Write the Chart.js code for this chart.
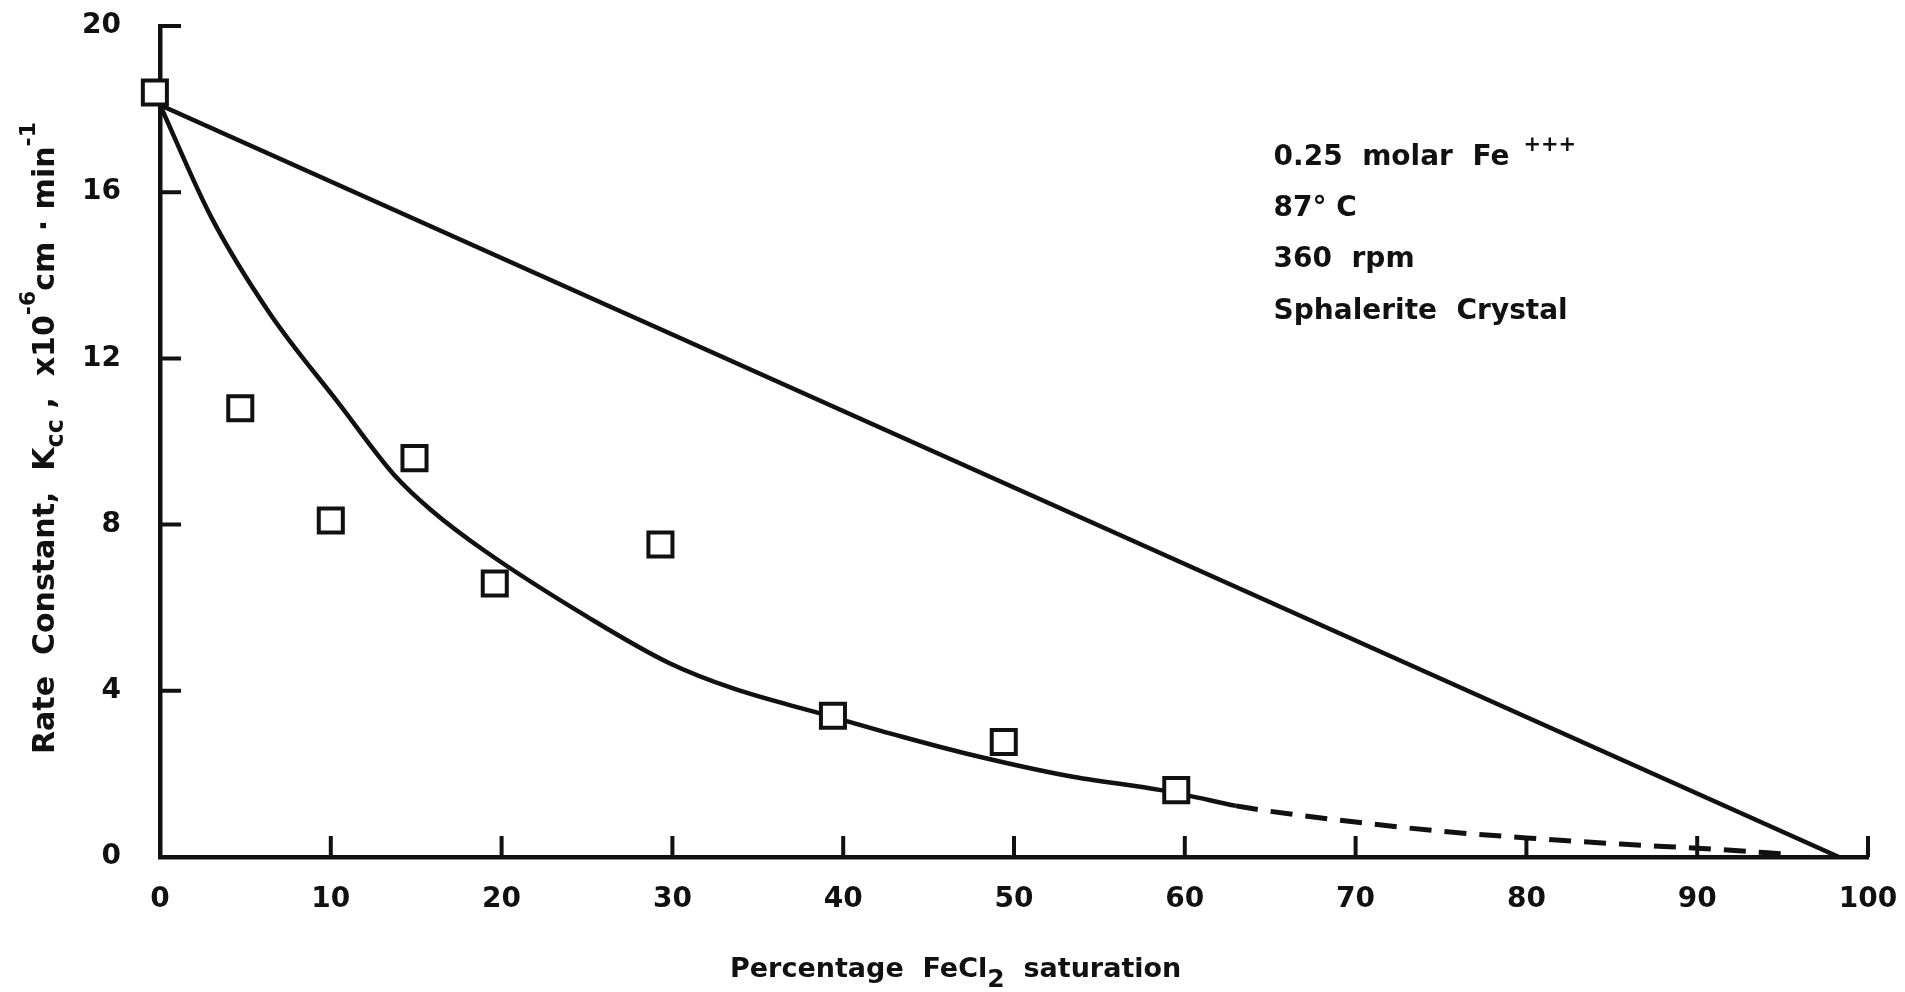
<!DOCTYPE html>
<html>
<head>
<meta charset="utf-8">
<script src="https://cdn.jsdelivr.net/npm/chart.js@4.4.1/dist/chart.umd.min.js"></script>
<style>
  html, body { margin: 0; padding: 0; background: #fff; }
</style>
</head>
<body>
<canvas id="rateChart" width="1905" height="992"></canvas>
<script>
// measured rate constants (x10^-6 cm/min) against % FeCl2 saturation
const satMeasured = [-0.3, 4.7, 10.0, 14.9, 19.6, 29.3, 39.4, 49.4, 59.5]
const rateMeasured = [18.4, 10.8, 8.1, 9.6, 6.58, 7.52, 3.4, 2.77, 1.61]

// fitted curve (solid part)
const satFit = [0, 3, 6.4, 10.5, 13.7, 15.9, 19, 25.1, 29.8, 33.6, 38.7, 43.4, 47.3, 53.2, 58.6, 63]
const rateFit = [18.1, 15.4, 13.1, 10.9, 9.2, 8.34, 7.37, 5.76, 4.67, 4.05, 3.45, 2.9, 2.48, 1.95, 1.61, 1.23]

// extrapolated tail of the fitted curve (dashed)
const satTail = [63, 65, 70, 75, 80, 86, 91, 95.5]
const rateTail = [1.23, 1.1, 0.84, 0.62, 0.46, 0.3, 0.19, 0.06]

// straight line from pure ferric solution to saturation
const satLine = [0, 98.3]
const rateLine = [18.1, 0]

const xTicks = [0, 10, 20, 30, 40, 50, 60, 70, 80, 90, 100]
const yTicks = [0, 4, 8, 12, 16, 20]

const notes = ['0.25  molar  Fe', '87° C', '360  rpm', 'Sphalerite  Crystal']

const pts = (xs, ys) => xs.map((x, i) => ({ x: x, y: ys[i] }))

const FONT = 'DejaVu Sans'
const INK = '#111'

// inward tick marks, axis titles and the conditions note
const decorations = {
  id: 'decorations',
  afterDraw (chart) {
    const { ctx, chartArea } = chart
    const xs = chart.scales.x
    const ys = chart.scales.y
    ctx.save()
    ctx.strokeStyle = INK
    ctx.lineWidth = 4
    ctx.beginPath()
    xTicks.slice(1).forEach(v => {
      const px = xs.getPixelForValue(v)
      ctx.moveTo(px, chartArea.bottom)
      ctx.lineTo(px, chartArea.bottom - 21)
    })
    yTicks.slice(1).forEach(v => {
      const py = ys.getPixelForValue(v)
      ctx.moveTo(chartArea.left, py)
      ctx.lineTo(chartArea.left + 21, py)
    })
    ctx.stroke()

    ctx.fillStyle = INK
    ctx.textBaseline = 'alphabetic'
    ctx.textAlign = 'left'

    // y title, rotated, with subscript and superscripts
    ctx.save()
    ctx.translate(54, 754)
    ctx.rotate(-Math.PI / 2)
    let cx = 0
    const part = (txt, size, dy) => {
      ctx.font = 'bold ' + size + 'px "' + FONT + '"'
      ctx.fillText(txt, cx, dy)
      cx += ctx.measureText(txt).width
    }
    part('Rate  Constant,  K', 30, 0)
    part('cc', 24, 9)
    part(' ,  x10', 30, 0)
    part('-6', 22, -19)
    part('cm · min', 30, 0)
    part('-1', 22, -19)
    ctx.restore()

    // x title
    cx = 730
    const xpart = (txt, size, dy) => {
      ctx.font = 'bold ' + size + 'px "' + FONT + '"'
      ctx.fillText(txt, cx, 977 + dy)
      cx += ctx.measureText(txt).width
    }
    xpart('Percentage  FeCl', 27, 0)
    xpart('2', 25, 10)
    xpart('  saturation', 27, 0)

    // experimental conditions
    const nx = xs.getPixelForValue(65.2)
    notes.forEach((t, i) => {
      const py = ys.getPixelForValue(16.65 - i * 1.23)
      ctx.font = 'bold 28px "' + FONT + '"'
      ctx.fillText(t, nx, py)
      if (i === 0) {
        const w = ctx.measureText(t).width
        ctx.font = 'bold 21px "' + FONT + '"'
        ctx.fillText('+++', nx + w + 14, py - 14)
      }
    })
    ctx.restore()
  }
}

new Chart(document.getElementById('rateChart').getContext('2d'), {
  type: 'scatter',
  data: {
    datasets: [
      {
        label: 'measured',
        data: pts(satMeasured, rateMeasured),
        pointStyle: 'rect',
        pointRadius: 17,
        pointBorderWidth: 4,
        pointBorderColor: INK,
        pointBackgroundColor: '#fff',
        showLine: false,
        clip: false,
        order: 0
      },
      {
        label: 'fit',
        data: pts(satFit, rateFit),
        showLine: true,
        borderColor: INK,
        borderWidth: 4.5,
        pointRadius: 0,
        cubicInterpolationMode: 'monotone',
        order: 1
      },
      {
        label: 'tail',
        data: pts(satTail, rateTail),
        showLine: true,
        borderColor: INK,
        borderWidth: 5,
        borderDash: [22, 13],
        pointRadius: 0,
        cubicInterpolationMode: 'monotone',
        order: 1
      },
      {
        label: 'linear',
        data: pts(satLine, rateLine),
        showLine: true,
        borderColor: INK,
        borderWidth: 4.5,
        pointRadius: 0,
        order: 1
      }
    ]
  },
  options: {
    responsive: false,
    animation: false,
    events: [],
    layout: { padding: { left: 0, top: 26, right: 37, bottom: 0 } },
    plugins: {
      legend: { display: false },
      tooltip: { enabled: false }
    },
    scales: {
      x: {
        type: 'linear',
        min: 0,
        max: 100,
        afterFit (scale) {
          scale.height = 135
          scale.paddingLeft = 0
          scale.paddingRight = 0
        },
        afterBuildTicks (scale) { scale.ticks = xTicks.map(v => ({ value: v })) },
        grid: { display: false },
        border: { display: true, color: INK, width: 4.5 },
        ticks: {
          color: INK,
          padding: 18,
          autoSkip: false,
          maxRotation: 0,
          font: { family: FONT, size: 28, weight: 'bold' }
        }
      },
      y: {
        type: 'linear',
        min: 0,
        max: 20,
        afterFit (scale) {
          scale.width = 160
          scale.paddingTop = 0
          scale.paddingBottom = 0
        },
        afterBuildTicks (scale) { scale.ticks = yTicks.map(v => ({ value: v })) },
        grid: { display: false },
        border: { display: true, color: INK, width: 4.5 },
        ticks: {
          color: INK,
          padding: 31,
          font: { family: FONT, size: 28, weight: 'bold' }
        }
      }
    }
  },
  plugins: [decorations]
})
</script>
</body>
</html>
